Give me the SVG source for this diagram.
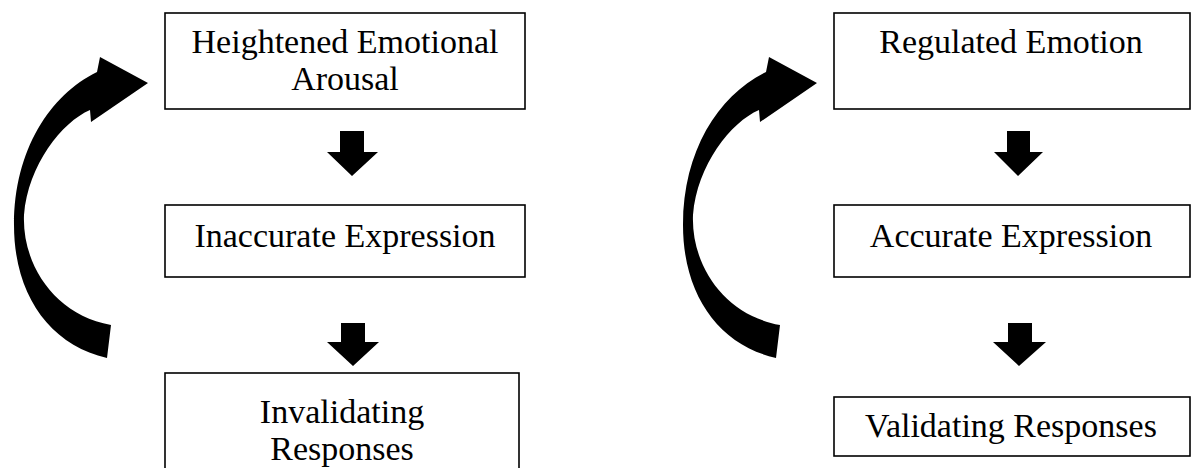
<svg xmlns="http://www.w3.org/2000/svg" width="1191" height="468" viewBox="0 0 1191 468">
<style>
.box{fill:#fff;stroke:#000;stroke-width:1.6}
.t{font-family:"Liberation Serif","Times New Roman",serif;font-size:34px;fill:#000;text-anchor:middle}
.arr{fill:#000}
</style>
<defs>
<path id="loop" d="M107,358 C50,345 14,295 14,225 C14,150 50,95 97,72 L100,57 L148,83 L91,122 L90,110 C62,122 28,165 24,215 C22,265 55,315 111,325 Z"/>
</defs>
<rect width="1191" height="468" fill="#fff"/>
<g id="n1"><rect class="box" x="165" y="13" width="360" height="96"/><text class="t" x="345" y="53">Heightened Emotional</text><text class="t" x="345" y="90">Arousal</text></g>
<g id="n2"><rect class="box" x="165" y="205" width="360" height="72"/><text class="t" x="345" y="247">Inaccurate Expression</text></g>
<g id="n3"><rect class="box" x="165" y="373" width="354" height="100"/><text class="t" x="342" y="423">Invalidating</text><text class="t" x="342" y="460">Responses</text></g>
<g id="n4"><rect class="box" x="834" y="13" width="356" height="96"/><text class="t" x="1011" y="53">Regulated Emotion</text></g>
<g id="n5"><rect class="box" x="834" y="205" width="356" height="72"/><text class="t" x="1011" y="247">Accurate Expression</text></g>
<g id="n6"><rect class="box" x="834" y="397" width="356" height="59"/><text class="t" x="1011" y="437">Validating Responses</text></g>
<g id="connectors">
<polygon class="arr" points="340,131 364,131 364,152 378,152 352,176 327,152 340,152"/>
<polygon class="arr" points="341,323 365,323 365,342 379,342 353,366 327,342 341,342"/>
<polygon class="arr" points="1007,131 1030,131 1030,152 1043,152 1018,176 994,152 1007,152"/>
<polygon class="arr" points="1008,323 1032,323 1032,342 1046,342 1019,366 993,342 1008,342"/>
<use href="#loop" class="arr"/>
<use href="#loop" class="arr" transform="translate(669,0)"/>
</g>
</svg>
